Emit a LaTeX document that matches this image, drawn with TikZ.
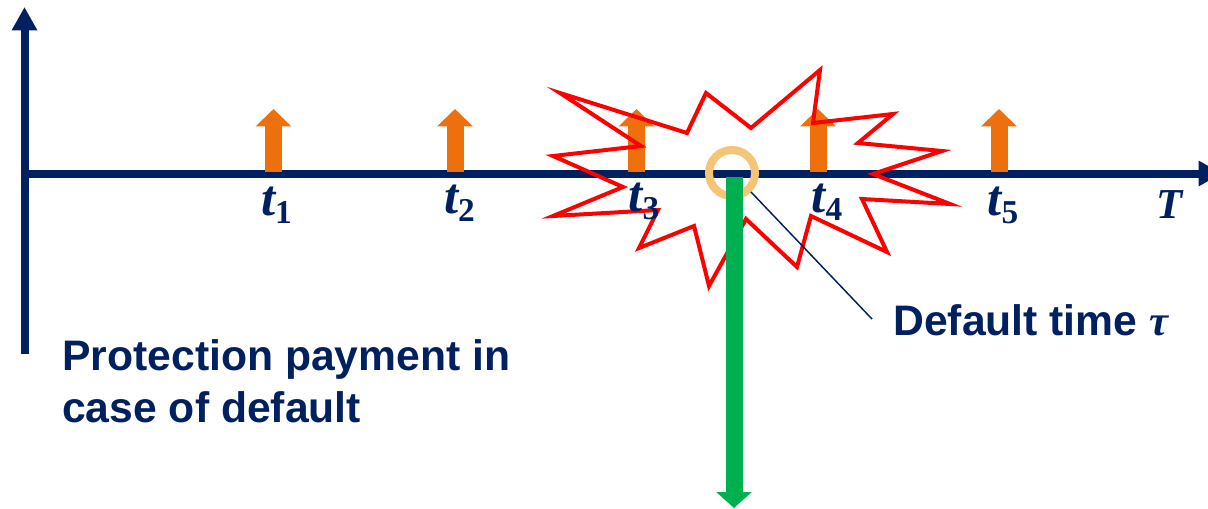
\documentclass[tikz,border=0pt]{standalone}
\usepackage{xcolor}
\usepackage{fontspec}
\setmainfont{Liberation Sans}
\newfontfamily\symfont{Liberation Serif}
\usetikzlibrary{arrows.meta,positioning}
\definecolor{AxisNavy}{HTML}{002060}
\definecolor{PayOrange}{HTML}{EE700C}
\definecolor{ProtGreen}{HTML}{00B050}
\definecolor{BurstRed}{HTML}{FF0000}
\definecolor{RingTan}{HTML}{F4C477}
\newcommand{\symlabel}[2]{{\symfont\bfseries\itshape #1\raisebox{-0.17em}{\fontsize{25}{25}\selectfont\upshape #2}}}
\tikzset{
  axisline/.style={draw=AxisNavy,line width=6pt,-{Triangle[length=17.5pt,width=18pt]}},
  payarrow/.style={draw=PayOrange,line width=12.75pt,-{Triangle[length=13pt,width=26pt]}},
  protarrow/.style={draw=ProtGreen,line width=12.75pt,-{Triangle[length=12pt,width=26pt]}},
  burst/.style={draw=BurstRed,line width=3pt,miter limit=20},
  timelabel/.style={text=AxisNavy,font=\fontsize{38}{38}\selectfont,inner sep=0pt,anchor=base},
  bodylabel/.style={text=AxisNavy,font=\fontsize{32}{39}\selectfont\bfseries,inner sep=0pt,align=left}
}
\begin{document}
\begin{tikzpicture}[x=0.75pt,y=-0.75pt]
  \useasboundingbox (0,0) rectangle (1208,508);
  \clip (0,0) rectangle (1208,508);
  % axes
  \coordinate (origin) at (24.5,173.5);
  \coordinate (ybottom) at (24.5,354);
  \coordinate (ytop) at (24.5,7);
  \coordinate (xend) at (1222,173.5);
  \draw[axisline] (ybottom) -- (ytop);
  \draw[axisline] (origin) -- (xend);
  % coupon dates
  \foreach \i/\x in {1/273.5,2/455,3/636.5,4/818,5/999} {
    \coordinate (base\i) at (\x,172);
    \coordinate (tip\i) at (\x,109);
    \draw[payarrow] (base\i) -- (tip\i);
  }
  % explosion
  \draw[burst] (560,93) -- (687,133) -- (706,93) -- (751,128) -- (820,70) -- (813,123)
    -- (893,114) -- (858,143) -- (942,151) -- (873,174) -- (950,204) -- (862,199)
    -- (887,252) -- (811,216) -- (797,267) -- (746,219) -- (709,286) -- (694,226)
    -- (639,248) -- (658,210) -- (553,216) -- (623,187) -- (553,156) -- (641,146) -- cycle;
  % default point
  \node[circle,draw=RingTan,line width=6pt,minimum size=34.5pt,inner sep=0pt] (ring) at (732,173) {};
  \coordinate (greentop) at (734,177);
  \coordinate (greentip) at (734,508);
  \draw[protarrow] (greentop) -- (greentip);
  \node[bodylabel,anchor=base west] (deflabel) at (893,335) {Default time {\symfont\itshape τ}};
  \coordinate (leadstart) at (751,192);
  \coordinate (leadend) at (872,319);
  \draw[AxisNavy,line width=1.1pt] (leadstart) -- (leadend);
  \node[bodylabel,anchor=base west] (protlabel) at (62,422) {Protection payment in\\case of default};
  % time labels
  \node[timelabel] (t1) at (276.5,215) {\symlabel{t}{1}};
  \node[timelabel] (t2) at (459.5,213) {\symlabel{t}{2}};
  \node[timelabel] (t3) at (644,211) {\symlabel{t}{3}};
  \node[timelabel] (t4) at (827,212) {\symlabel{t}{4}};
  \node[timelabel] (t5) at (1003,215) {\symlabel{t}{5}};
  \node[timelabel,font=\fontsize{32}{32}\selectfont] (tend) at (1170,218) {\symlabel{T}{}};
\end{tikzpicture}
\end{document}
